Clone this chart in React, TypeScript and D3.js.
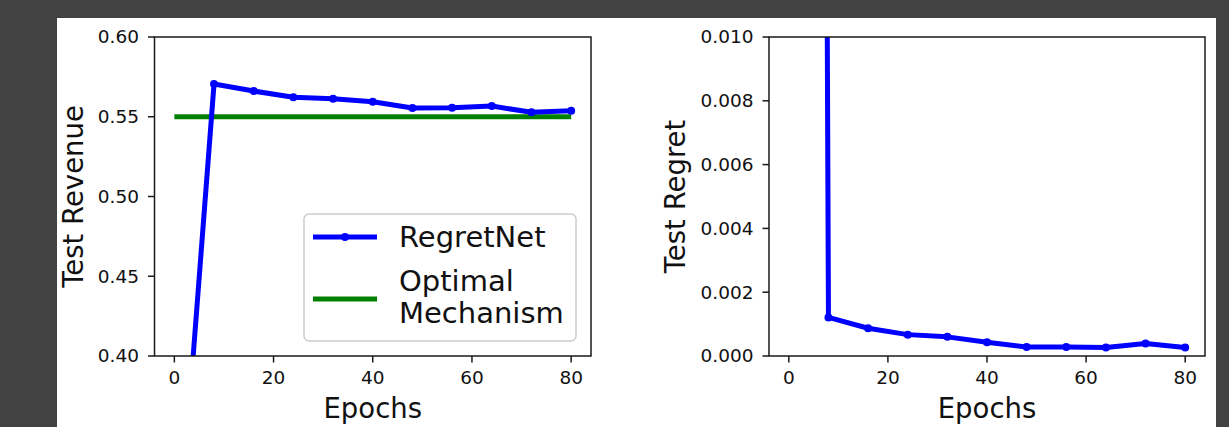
import React from "react";
import * as d3 from "d3";

const epochs = [0, 8, 16, 24, 32, 40, 48, 56, 64, 72, 80];
const revenue = [0.246, 0.5705, 0.5661, 0.5622, 0.5613, 0.5594, 0.5555, 0.5557, 0.5567, 0.5528, 0.5538];
const optimalRevenue = 0.55;
const regret = [0.3, 0.00121, 0.00087, 0.00067, 0.0006, 0.00043, 0.00028, 0.00028, 0.00027, 0.00039, 0.00027];
const xTicks = [0, 20, 40, 60, 80];
const revTicks = [0.4, 0.45, 0.5, 0.55, 0.6];
const regTicks = [0, 0.002, 0.004, 0.006, 0.008, 0.01];

const FONT = "DejaVu Sans, sans-serif";
const W = 1229;
const H = 427;

type PanelProps = {
  id: string;
  left: number;
  right: number;
  yDomain: [number, number];
  yTicks: number[];
  yFmt: (v: number) => string;
  values: number[];
  ylabel: string;
  ylabelX: number;
  showOpt?: boolean;
};

const TOP = 37;
const BOTTOM = 356;

function Panel({ id, left, right, yDomain, yTicks, yFmt, values, ylabel, ylabelX, showOpt }: PanelProps) {
  const x = d3.scaleLinear().domain([-4, 84]).range([left, right]);
  const y = d3.scaleLinear().domain(yDomain).range([BOTTOM, TOP]);
  const pts = epochs.map((e, i) => [e, values[i]] as [number, number]);
  const line = d3
    .line<[number, number]>()
    .x((d) => x(d[0]))
    .y((d) => y(d[1]));
  const cx = (left + right) / 2;
  const cy = (TOP + BOTTOM) / 2;
  return (
    <g>
      <defs>
        <clipPath id={id}>
          <rect x={left} y={TOP} width={right - left} height={BOTTOM - TOP} />
        </clipPath>
      </defs>
      <g clipPath={`url(#${id})`}>
        {showOpt && (
          <line
            x1={x(0)}
            x2={x(80)}
            y1={y(optimalRevenue)}
            y2={y(optimalRevenue)}
            stroke="#008000"
            strokeWidth={5}
          />
        )}
        <path d={line(pts) || ""} fill="none" stroke="#0000ff" strokeWidth={5} strokeLinejoin="round" />
        {pts.map((p, i) => (
          <circle key={i} cx={x(p[0])} cy={y(p[1])} r={4} fill="#0000ff" />
        ))}
      </g>
      <rect x={left} y={TOP} width={right - left} height={BOTTOM - TOP} fill="none" stroke="#1a1a1a" strokeWidth={1.5} />
      {xTicks.map((t) => (
        <g key={t}>
          <line x1={x(t)} x2={x(t)} y1={BOTTOM} y2={BOTTOM + 6.5} stroke="#1a1a1a" strokeWidth={1.5} />
          <text x={x(t)} y={384} textAnchor="middle" fontSize={18.5} fontFamily={FONT} fill="#111">
            {t}
          </text>
        </g>
      ))}
      {yTicks.map((t) => (
        <g key={t}>
          <line x1={left - 6.5} x2={left} y1={y(t)} y2={y(t)} stroke="#1a1a1a" strokeWidth={1.5} />
          <text x={left - 15.5} y={y(t)} dy="0.35em" textAnchor="end" fontSize={18.5} fontFamily={FONT} fill="#111">
            {yFmt(t)}
          </text>
        </g>
      ))}
      <text x={cx} y={418} textAnchor="middle" fontSize={27.5} fontFamily={FONT} fill="#111">
        Epochs
      </text>
      <text
        transform={`translate(${ylabelX},${cy}) rotate(-90)`}
        textAnchor="middle"
        fontSize={27.5}
        fontFamily={FONT}
        fill="#111"
      >
        {ylabel}
      </text>
    </g>
  );
}

export default function App() {
  return (
    <svg
      width={W}
      height={H}
      style={{ position: "absolute", left: 0, top: 0, display: "block" }}
      xmlns="http://www.w3.org/2000/svg"
    >
      <rect x={0} y={0} width={W} height={H} fill="#424242" />
      <rect x={57} y={18} width={1159} height={H - 18} fill="#ffffff" />
      <Panel
        id="clipL"
        left={154.5}
        right={591}
        yDomain={[0.4, 0.6]}
        yTicks={revTicks}
        yFmt={d3.format(".2f")}
        values={revenue}
        ylabel="Test Revenue"
        ylabelX={83}
        showOpt
      />
      <Panel
        id="clipR"
        left={769}
        right={1205}
        yDomain={[0, 0.01]}
        yTicks={regTicks}
        yFmt={d3.format(".3f")}
        values={regret}
        ylabel="Test Regret"
        ylabelX={685}
      />
      <g>
        <rect x={304} y={214} width={272} height={127} rx={5} fill="#ffffff" fillOpacity={0.8} stroke="#cccccc" strokeWidth={1.5} />
        <line x1={313} x2={377} y1={237} y2={237} stroke="#0000ff" strokeWidth={5} />
        <circle cx={345} cy={237} r={4} fill="#0000ff" />
        <text x={399} y={247} fontSize={29} fontFamily={FONT} fill="#111">
          RegretNet
        </text>
        <line x1={313} x2={377} y1={299} y2={299} stroke="#008000" strokeWidth={5} />
        <text x={399} y={291} fontSize={29} fontFamily={FONT} fill="#111">
          Optimal
        </text>
        <text x={399} y={323} fontSize={29} fontFamily={FONT} fill="#111">
          Mechanism
        </text>
      </g>
    </svg>
  );
}
